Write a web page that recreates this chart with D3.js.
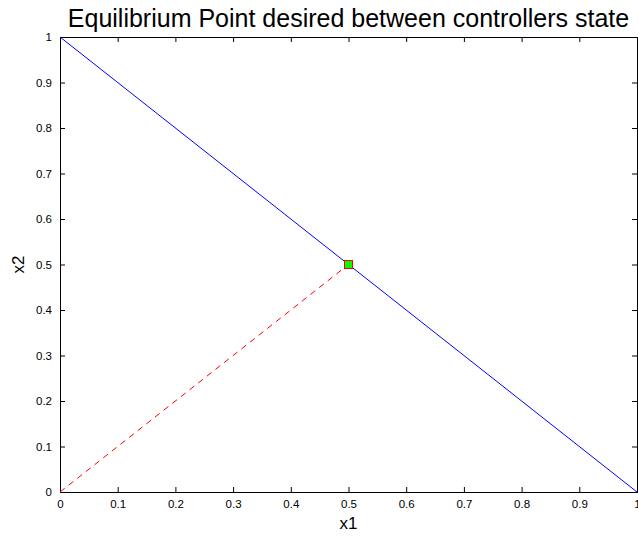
<!DOCTYPE html>
<html>
<head>
<meta charset="utf-8">
<script src="https://cdn.jsdelivr.net/npm/d3@7"></script>
<style>
  body { margin: 0; background: #fff; }
  svg { display: block; font-family: "Liberation Sans", Arial, sans-serif; }
</style>
</head>
<body>
<div class="canvas"></div>
<script>
// data
const ticks = [0, 0.1, 0.2, 0.3, 0.4, 0.5, 0.6, 0.7, 0.8, 0.9, 1];
const lineX = [0, 1];
const lineY = [1, 0];
const dashX = [0, 0.5];
const dashY = [0, 0.5];
const eqPoint = [0.5, 0.5];

const width = 638, height = 536;
const margin = {top: 37, right: 1, bottom: 44, left: 60};
const graphWidth = width - margin.left - margin.right;
const graphHeight = height - margin.top - margin.bottom;

const svg = d3.select('.canvas')
    .append('svg')
    .attr('width', width)
    .attr('height', height);

const graph = svg.append('g')
    .attr('transform', `translate(${margin.left}, ${margin.top})`);

// scales
const x = d3.scaleLinear().domain([0, 1]).range([0, graphWidth]);
const y = d3.scaleLinear().domain([0, 1]).range([graphHeight, 0]);

const fmt = d => d3.format('')(+d.toFixed(1));

// axes, ticks pointing inward like matlab
const styleAxis = g => {
    g.select('.domain').attr('stroke', '#000').attr('stroke-width', 1);
    g.selectAll('.tick line').attr('stroke', '#000');
    g.selectAll('.tick text').attr('font-size', 11.5).attr('fill', '#000')
        .attr('font-family', '"Liberation Sans", Arial, sans-serif');
};

graph.append('g')
    .attr('transform', `translate(0, ${graphHeight})`)
    .call(d3.axisBottom(x).tickValues(ticks).tickSize(-5).tickPadding(8).tickFormat(fmt))
    .call(styleAxis);

graph.append('g')
    .call(d3.axisLeft(y).tickValues(ticks).tickSize(-5).tickPadding(8).tickFormat(fmt))
    .call(styleAxis);

graph.append('g')
    .call(d3.axisTop(x).tickValues(ticks).tickSize(-5).tickFormat(''))
    .call(styleAxis);

graph.append('g')
    .attr('transform', `translate(${graphWidth}, 0)`)
    .call(d3.axisRight(y).tickValues(ticks).tickSize(-5).tickFormat(''))
    .call(styleAxis);

// lines
const line = d3.line().x(d => x(d[0])).y(d => y(d[1]));

graph.append('path')
    .datum(lineX.map((v, i) => [v, lineY[i]]))
    .attr('d', line)
    .attr('fill', 'none')
    .attr('stroke', '#0000ff')
    .attr('stroke-width', 1);

graph.append('path')
    .datum(dashX.map((v, i) => [v, dashY[i]]))
    .attr('d', line)
    .attr('fill', 'none')
    .attr('stroke', '#ff0000')
    .attr('stroke-width', 1)
    .attr('stroke-dasharray', '6,5');

// equilibrium marker
graph.append('rect')
    .attr('x', x(eqPoint[0]) - 4)
    .attr('y', y(eqPoint[1]) - 4)
    .attr('width', 8)
    .attr('height', 8)
    .attr('fill', '#00ff00')
    .attr('stroke', '#ff0000')
    .attr('stroke-width', 1);

// labels
svg.append('text')
    .attr('x', margin.left + graphWidth / 2)
    .attr('y', 27)
    .attr('text-anchor', 'middle')
    .attr('font-size', 25)
    .attr('fill', '#000')
    .text('Equilibrium Point desired between controllers state');

svg.append('text')
    .attr('x', margin.left + graphWidth / 2)
    .attr('y', 529)
    .attr('text-anchor', 'middle')
    .attr('font-size', 17)
    .attr('fill', '#000')
    .text('x1');

svg.append('text')
    .attr('transform', `translate(24, ${margin.top + graphHeight / 2}) rotate(-90)`)
    .attr('text-anchor', 'middle')
    .attr('font-size', 17)
    .attr('fill', '#000')
    .text('x2');
</script>
</body>
</html>
